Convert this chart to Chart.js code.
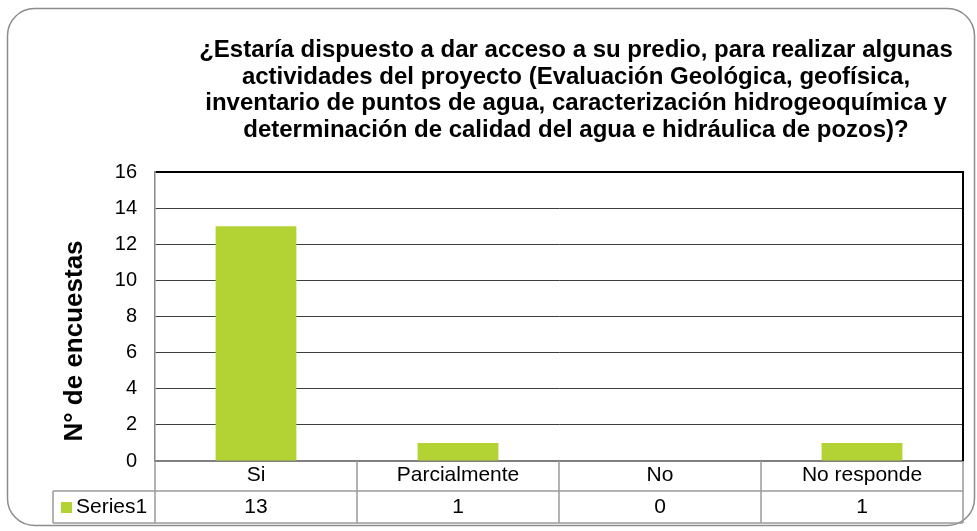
<!DOCTYPE html>
<html>
<head>
<meta charset="utf-8">
<script src="https://cdn.jsdelivr.net/npm/chart.js@4"></script>
<style>
  body { margin: 0; background: #fff; }
  #contenedor { width: 977px; height: 531px; }
</style>
</head>
<body>
<div id="contenedor"><canvas id="encuestas"></canvas></div>
<script>
// Datos del gráfico
const categorias = ['Si', 'Parcialmente', 'No', 'No responde'];
const valores = [13, 1, 0, 1];
const nombreSerie = 'Series1';
const ejeYMin = 0;
const ejeYMax = 16;
const ejeYPaso = 2;
const tituloLineas = [
    '¿Estaría dispuesto a dar acceso a su predio, para realizar algunas',
    'actividades del proyecto (Evaluación Geológica, geofísica,',
    'inventario de puntos de agua, caracterización hidrogeoquímica y',
    'determinación de calidad del agua e hidráulica de pozos)?'
];
const tituloEjeY = 'N° de encuestas';

const fuente = "'Liberation Sans', Arial, sans-serif";
const verde = '#b3d334';
const grisTabla = '#9a9a9a';

// Marco redondeado, título y tabla de datos bajo el eje
const extras = {
    id: 'extras',
    beforeDraw(chart) {
        const c = chart.ctx;
        c.save();
        c.fillStyle = '#fff';
        c.fillRect(0, 0, chart.width, chart.height);
        c.strokeStyle = '#8c8c8c';
        c.lineWidth = 1.5;
        c.beginPath();
        c.roundRect(7.5, 8.5, 967, 517, 27);
        c.stroke();
        c.restore();
    },
    afterDraw(chart) {
        const c = chart.ctx;
        const area = chart.chartArea;
        const x = chart.scales.x;
        const n = categorias.length;
        const ancho = x.width / n;
        const fila2 = area.bottom + 30;
        const fin = x.bottom;
        c.save();

        // titulo
        c.fillStyle = '#000';
        c.font = 'bold 24px ' + fuente;
        c.textAlign = 'center';
        c.textBaseline = 'alphabetic';
        tituloLineas.forEach((t, i) => c.fillText(t, 576, 57 + i * 26.7));

        // titulo eje Y
        c.save();
        c.translate(75, 341);
        c.rotate(-Math.PI / 2);
        c.textBaseline = 'middle';
        c.font = 'bold 26px ' + fuente;
        c.fillText(tituloEjeY, 0, 0);
        c.restore();

        // borde derecho del area
        c.strokeStyle = '#000';
        c.lineWidth = 2;
        c.beginPath();
        c.moveTo(area.right, area.top - 1);
        c.lineTo(area.right, area.bottom);
        c.stroke();

        // lineas de la tabla
        c.strokeStyle = grisTabla;
        c.lineWidth = 1.5;
        c.beginPath();
        for (let i = 0; i <= n; i++) {
            const px = x.left + i * ancho;
            c.moveTo(px, area.bottom);
            c.lineTo(px, fin);
        }
        c.moveTo(53, fila2);
        c.lineTo(x.right, fila2);
        c.moveTo(53, fin);
        c.lineTo(x.right, fin);
        c.moveTo(53, fila2);
        c.lineTo(53, fin);
        c.stroke();

        // fila de valores
        c.font = '21px ' + fuente;
        c.textBaseline = 'middle';
        c.textAlign = 'center';
        valores.forEach((v, i) => {
            c.fillText(String(v), x.getPixelForValue(i), (fila2 + fin) / 2);
        });

        // clave de la serie
        c.fillStyle = verde;
        c.fillRect(61, 502, 11, 11);
        c.fillStyle = '#000';
        c.textAlign = 'left';
        c.fillText(nombreSerie, 76, (fila2 + fin) / 2);
        c.restore();
    }
};

const ctx = document.getElementById('encuestas').getContext('2d');
const grafico = new Chart(ctx, {
    type: 'bar',
    data: {
        labels: categorias,
        datasets: [{
            label: nombreSerie,
            data: valores,
            backgroundColor: verde,
            borderWidth: 0,
            categoryPercentage: 1,
            barPercentage: 0.4
        }]
    },
    options: {
        responsive: true,
        maintainAspectRatio: false,
        animation: false,
        layout: { padding: { top: 172, left: 0, right: 14, bottom: 8 } },
        plugins: {
            legend: { display: false },
            tooltip: { enabled: false }
        },
        scales: {
            x: {
                grid: { display: false, drawTicks: false },
                border: { color: '#7f7f7f', width: 2 },
                ticks: { color: '#000', padding: 2, font: { family: fuente, size: 21 } },
                afterFit(s) { s.height = 62; }
            },
            y: {
                min: ejeYMin,
                max: ejeYMax,
                ticks: { stepSize: ejeYPaso, color: '#000', padding: 18, font: { family: fuente, size: 20 } },
                grid: {
                    drawTicks: false,
                    color: c => c.tick.value === ejeYMax ? '#000' : (c.tick.value === ejeYMin ? '#7f7f7f' : '#3c3c3c'),
                    lineWidth: c => c.tick.value === ejeYMax ? 2 : 1
                },
                border: { color: '#8a8a8a', width: 1.5 },
                afterFit(s) { s.width = 155; }
            }
        }
    },
    plugins: [extras]
});
</script>
</body>
</html>
